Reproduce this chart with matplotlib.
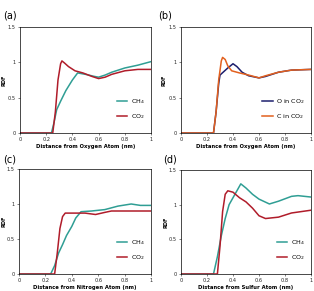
import matplotlib
matplotlib.use("Agg")
import matplotlib.pyplot as plt

# radial distribution functions
r_a_ch4 = [0, 0.2, 0.24, 0.26, 0.28, 0.31, 0.35, 0.4, 0.44, 0.5, 0.57, 0.6, 0.65, 0.7, 0.8, 0.9, 1.0]
g_a_ch4 = [0, 0, 0, 0.15, 0.33, 0.45, 0.6, 0.75, 0.85, 0.83, 0.8, 0.79, 0.82, 0.86, 0.92, 0.96, 1.01]
r_a_co2 = [0, 0.2, 0.25, 0.27, 0.29, 0.31, 0.32, 0.34, 0.37, 0.42, 0.48, 0.55, 0.6, 0.65, 0.7, 0.8, 0.9, 1.0]
g_a_co2 = [0, 0, 0, 0.3, 0.75, 0.98, 1.02, 0.99, 0.94, 0.88, 0.85, 0.8, 0.77, 0.79, 0.83, 0.88, 0.9, 0.9]

r_b_o = [0, 0.2, 0.25, 0.27, 0.29, 0.3, 0.33, 0.36, 0.4, 0.43, 0.47, 0.52, 0.6, 0.65, 0.75, 0.85, 1.0]
g_b_o = [0, 0, 0, 0.3, 0.7, 0.82, 0.87, 0.92, 0.98, 0.94, 0.86, 0.81, 0.78, 0.8, 0.86, 0.89, 0.9]
r_b_c = [0, 0.2, 0.25, 0.27, 0.29, 0.31, 0.32, 0.34, 0.36, 0.39, 0.45, 0.52, 0.6, 0.65, 0.75, 0.85, 1.0]
g_b_c = [0, 0, 0, 0.3, 0.75, 1.02, 1.07, 1.04, 0.95, 0.88, 0.85, 0.82, 0.78, 0.81, 0.86, 0.89, 0.9]

r_c_ch4 = [0, 0.2, 0.24, 0.27, 0.3, 0.33, 0.36, 0.4, 0.43, 0.47, 0.55, 0.65, 0.75, 0.85, 0.92, 1.0]
g_c_ch4 = [0, 0, 0, 0.12, 0.3, 0.42, 0.55, 0.68, 0.8, 0.89, 0.9, 0.92, 0.97, 1.0, 0.98, 0.98]
r_c_co2 = [0, 0.2, 0.27, 0.29, 0.31, 0.33, 0.35, 0.4, 0.5, 0.58, 0.65, 0.7, 0.8, 0.9, 1.0]
g_c_co2 = [0, 0, 0, 0.3, 0.65, 0.82, 0.87, 0.87, 0.87, 0.85, 0.88, 0.9, 0.9, 0.9, 0.9]

r_d_ch4 = [0, 0.2, 0.25, 0.28, 0.31, 0.34, 0.37, 0.4, 0.43, 0.46, 0.5, 0.55, 0.6, 0.68, 0.75, 0.85, 0.9, 1.0]
g_d_ch4 = [0, 0, 0, 0.25, 0.55, 0.8, 1.0, 1.1, 1.2, 1.3, 1.24, 1.15, 1.08, 1.01, 1.05, 1.12, 1.13, 1.11]
r_d_co2 = [0, 0.2, 0.28, 0.3, 0.32, 0.34, 0.36, 0.4, 0.45, 0.5, 0.55, 0.6, 0.65, 0.75, 0.85, 1.0]
g_d_co2 = [0, 0, 0, 0.4, 0.9, 1.15, 1.2, 1.18, 1.1, 1.04, 0.95, 0.84, 0.8, 0.82, 0.88, 0.92]

teal = "#2f9e94"
red = "#b01c2a"
navy = "#1c1f6e"
orange = "#e2601e"

W, H = 314.0, 291.0
fig = plt.figure(figsize=(W / 100, H / 100), dpi=100)
fig.patch.set_facecolor("white")


def make_ax(x0, y0, x1, y1):
    return fig.add_axes([x0 / W, 1 - y1 / H, (x1 - x0) / W, (y1 - y0) / H])


def style(ax, xlabel, ylab_x):
    ax.set_xlim(0, 1)
    ax.set_ylim(0, 1.5)
    ax.set_xticks([0, 0.2, 0.4, 0.6, 0.8, 1.0])
    ax.set_xticklabels(["0", "0.2", "0.4", "0.6", "0.8", "1"])
    ax.set_yticks([0, 0.5, 1.0, 1.5])
    ax.set_yticklabels(["0", "0.5", "1", "1.5"])
    ax.tick_params(labelsize=3.6, length=1.5, width=0.4, pad=1.5, colors="#222222")
    for s in ax.spines.values():
        s.set_linewidth(0.5)
    ax.set_ylabel("RDF", fontsize=3.6, fontweight="bold")
    ax.yaxis.set_label_coords(ylab_x, 0.5)
    ax.set_xlabel(xlabel, fontsize=3.8, fontweight="bold", labelpad=1.5)


# tag, axes box (px), tag position (px), ylabel x (px), xlabel, series
panels = [
    ("(a)", (20, 27, 151, 133), (3, 15), 6, "Distance from Oxygen Atom (nm)",
     [(r_a_ch4, g_a_ch4, teal, "CH$_4$"), (r_a_co2, g_a_co2, red, "CO$_2$")]),
    ("(b)", (181, 27, 311, 133), (158, 15), 166, "Distance from Oxygen Atom (nm)",
     [(r_b_o, g_b_o, navy, "O in CO$_2$"), (r_b_c, g_b_c, orange, "C in CO$_2$")]),
    ("(c)", (19, 169, 151, 274), (3, 160), 6, "Distance from Nitrogen Atom (nm)",
     [(r_c_ch4, g_c_ch4, teal, "CH$_4$"), (r_c_co2, g_c_co2, red, "CO$_2$")]),
    ("(d)", (181, 170, 311, 274), (163, 160), 168, "Distance from Sulfur Atom (nm)",
     [(r_d_ch4, g_d_ch4, teal, "CH$_4$"), (r_d_co2, g_d_co2, red, "CO$_2$")]),
]

for tag, box, tpos, ylx, xlabel, series in panels:
    ax = make_ax(*box)
    for r, g, c, lab in series:
        ax.plot(r, g, color=c, lw=1.1, label=lab)
    style(ax, xlabel, (ylx - box[0]) / (box[2] - box[0]))
    ax.legend(loc="lower right", bbox_to_anchor=(1.0, 0.06), frameon=False,
              fontsize=4.6, handlelength=1.6, handletextpad=0.6, labelspacing=0.9)
    fig.text(tpos[0] / W, 1 - tpos[1] / H, tag, fontsize=7, va="center", ha="left")

fig.savefig("out.png", dpi=100)
